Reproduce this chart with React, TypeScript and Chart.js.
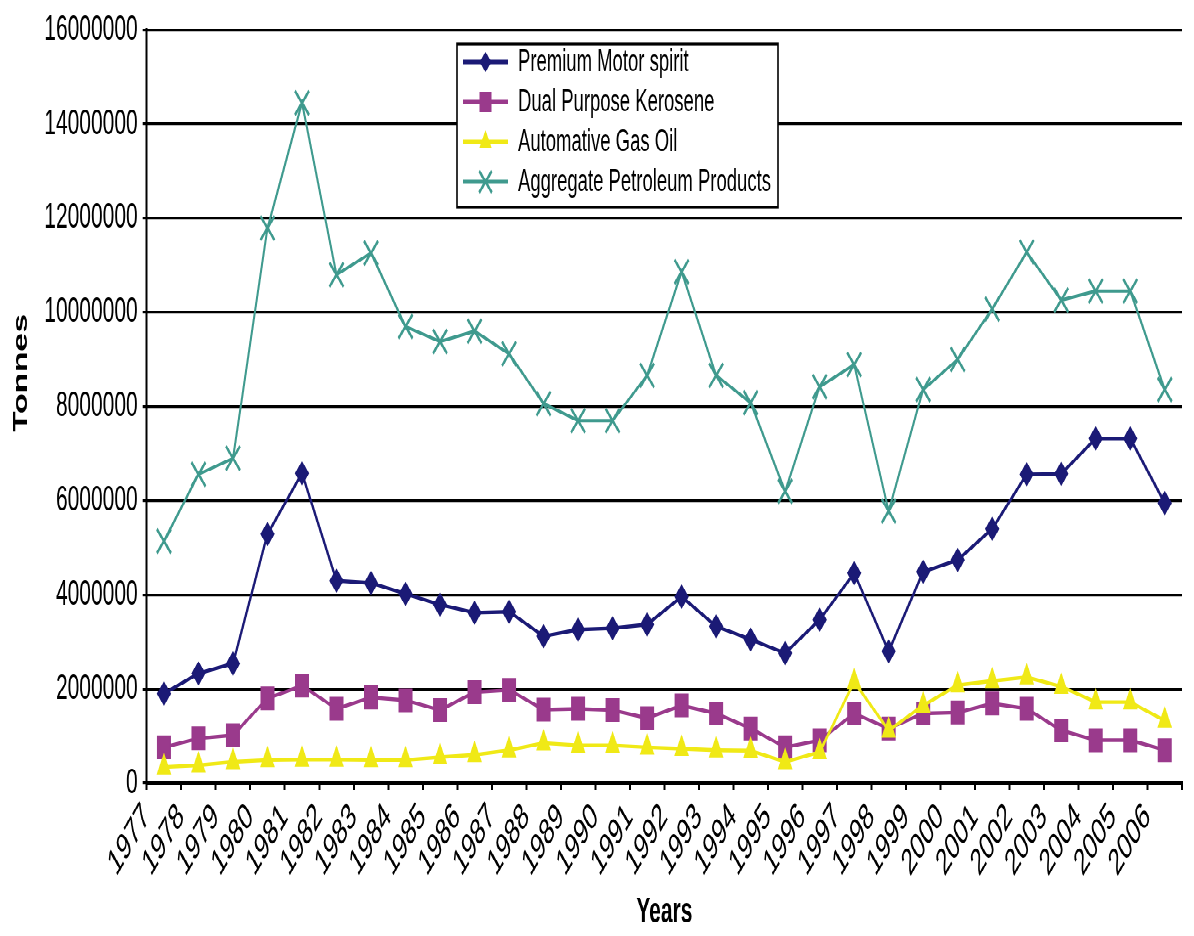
import React, { useEffect, useRef } from 'react';
import { Chart, registerables } from 'chart.js';

Chart.register(...registerables);

const years = [
  '1977', '1978', '1979', '1980', '1981', '1982', '1983', '1984', '1985', '1986',
  '1987', '1988', '1989', '1990', '1991', '1992', '1993', '1994', '1995', '1996',
  '1997', '1998', '1999', '2000', '2001', '2002', '2003', '2004', '2005', '2006',
];

const premiumMotorSpirit = [
  1900000, 2330000, 2540000, 5290000, 6580000, 4300000, 4250000, 4020000, 3790000, 3620000,
  3640000, 3120000, 3260000, 3290000, 3370000, 3960000, 3330000, 3050000, 2760000, 3470000,
  4460000, 2800000, 4490000, 4740000, 5400000, 6560000, 6570000, 7320000, 7320000, 5950000,
];

const dualPurposeKerosene = [
  760000, 950000, 1020000, 1800000, 2070000, 1580000, 1820000, 1760000, 1550000, 1930000,
  1980000, 1560000, 1580000, 1550000, 1380000, 1650000, 1480000, 1160000, 760000, 910000,
  1480000, 1160000, 1480000, 1500000, 1690000, 1580000, 1120000, 910000, 910000, 700000,
];

const automativeGasOil = [
  340000, 380000, 450000, 490000, 500000, 500000, 490000, 490000, 550000, 600000,
  700000, 850000, 800000, 800000, 760000, 730000, 700000, 690000, 450000, 660000,
  2150000, 1120000, 1650000, 2080000, 2170000, 2250000, 2050000, 1720000, 1720000, 1330000,
];

const aggregatePetroleumProducts = [
  5140000, 6560000, 6900000, 11790000, 14450000, 10800000, 11260000, 9700000, 9380000, 9600000,
  9120000, 8060000, 7700000, 7700000, 8660000, 10860000, 8660000, 8080000, 6200000, 8420000,
  8890000, 5780000, 8360000, 9000000, 10070000, 11280000, 10260000, 10450000, 10450000, 8360000,
];

const seriesNames = [
  'Premium Motor spirit',
  'Dual Purpose Kerosene',
  'Automative Gas Oil',
  'Aggregate Petroleum Products',
];

const yMin = 0;
const yMax = 16000000;
const yStep = 2000000;

const FONT = '"Liberation Sans", Arial, Helvetica, sans-serif';
const W = 1194;
const H = 551;
const STRETCH = 936 / H;

function drawMarker(ctx: CanvasRenderingContext2D, style: string, x: number, y: number, r: number, color: string) {
  ctx.save();
  ctx.fillStyle = color;
  ctx.strokeStyle = color;
  ctx.lineWidth = 2;
  ctx.beginPath();
  if (style === 'rectRot') {
    ctx.moveTo(x - r, y);
    ctx.lineTo(x, y - r);
    ctx.lineTo(x + r, y);
    ctx.lineTo(x, y + r);
    ctx.closePath();
    ctx.fill();
  } else if (style === 'rect') {
    const s = Math.SQRT1_2 * r;
    ctx.rect(x - s, y - s, 2 * s, 2 * s);
    ctx.fill();
  } else if (style === 'triangle') {
    const a = Math.PI / 3;
    ctx.moveTo(x, y - r);
    ctx.lineTo(x + Math.sin(a) * r, y + Math.cos(a) * r);
    ctx.lineTo(x - Math.sin(a) * r, y + Math.cos(a) * r);
    ctx.closePath();
    ctx.fill();
  } else if (style === 'crossRot') {
    const d = Math.SQRT1_2 * r;
    ctx.moveTo(x - d, y - d);
    ctx.lineTo(x + d, y + d);
    ctx.moveTo(x - d, y + d);
    ctx.lineTo(x + d, y - d);
    ctx.stroke();
  }
  ctx.restore();
}

const boxLegendPlugin = {
  id: 'boxLegend',
  afterDraw(chart: any) {
    const ctx: CanvasRenderingContext2D = chart.ctx;
    ctx.save();
    const x0 = 457, y0 = 26, x1 = 778, y1 = 122;
    ctx.fillStyle = '#ffffff';
    ctx.fillRect(x0, y0, x1 - x0, y1 - y0);
    ctx.strokeStyle = '#000000';
    ctx.lineWidth = 1.6;
    ctx.strokeRect(x0, y0, x1 - x0, y1 - y0);
    chart.data.datasets.forEach((ds: any, i: number) => {
      const cy = 36.5 + i * 23.5;
      ctx.strokeStyle = ds.borderColor;
      ctx.lineWidth = 2.4;
      ctx.beginPath();
      ctx.moveTo(463, cy);
      ctx.lineTo(508, cy);
      ctx.stroke();
      drawMarker(ctx, ds.pointStyle, 485.5, cy, ds.legendRadius, ds.borderColor);
      ctx.fillStyle = '#000000';
      ctx.font = `18.5px ${FONT}`;
      ctx.textAlign = 'left';
      ctx.textBaseline = 'middle';
      ctx.fillText(ds.label, 518, cy + 0.5);
    });
    // Y axis title
    ctx.translate(21.5, 219.6);
    ctx.rotate(-Math.PI / 2);
    ctx.fillStyle = '#000000';
    ctx.font = `bold 20px ${FONT}`;
    ctx.textAlign = 'center';
    ctx.textBaseline = 'middle';
    ctx.fillText('Tonnes', 0, 0);
    ctx.restore();
  },
};

export default function App() {
  const canvasRef = useRef<HTMLCanvasElement | null>(null);

  useEffect(() => {
    const canvas = canvasRef.current;
    if (!canvas) return;
    const chart = new Chart(canvas, {
      type: 'line',
      data: {
        labels: years,
        datasets: [
          {
            label: seriesNames[0],
            data: premiumMotorSpirit,
            borderColor: '#1b1a76',
            backgroundColor: '#1b1a76',
            pointStyle: 'rectRot',
            pointRadius: 6.5,
            pointBorderWidth: 1,
            borderWidth: 2.2,
            order: 4,
            legendRadius: 6,
          } as any,
          {
            label: seriesNames[1],
            data: dualPurposeKerosene,
            borderColor: '#9a3a8c',
            backgroundColor: '#9a3a8c',
            pointStyle: 'rect',
            pointRadius: 9.2,
            pointBorderWidth: 1,
            borderWidth: 2.2,
            order: 3,
            legendRadius: 8.5,
          } as any,
          {
            label: seriesNames[2],
            data: automativeGasOil,
            borderColor: '#f0e916',
            backgroundColor: '#f0e916',
            pointStyle: 'triangle',
            pointRadius: 7.5,
            pointBorderWidth: 1,
            borderWidth: 2.2,
            order: 2,
            legendRadius: 7,
          } as any,
          {
            label: seriesNames[3],
            data: aggregatePetroleumProducts,
            borderColor: '#3f9a8e',
            backgroundColor: '#3f9a8e',
            pointStyle: 'crossRot',
            pointRadius: 10,
            pointBorderWidth: 2,
            borderWidth: 2,
            order: 1,
            legendRadius: 9,
          } as any,
        ],
      },
      options: {
        responsive: false,
        animation: false,
        devicePixelRatio: 2,
        layout: { padding: { top: 16, right: 2, bottom: 0, left: 0 } },
        plugins: {
          legend: { display: false },
          tooltip: { enabled: false },
        },
        elements: { line: { tension: 0 } },
        scales: {
          x: {
            type: 'category',
            offset: true,
            grid: {
              display: true,
              drawOnChartArea: false,
              drawTicks: true,
              tickLength: 4,
              offset: true,
              color: '#000000',
              lineWidth: 2,
            },
            border: { display: true, color: '#000000', width: 2 },
            ticks: {
              autoSkip: false,
              maxRotation: 45,
              minRotation: 45,
              labelOffset: -17.42,
              padding: 3,
              color: '#000000',
              font: { family: FONT, size: 22 },
            },
            title: {
              display: true,
              text: 'Years',
              color: '#000000',
              font: { family: FONT, size: 21, weight: 'bold' },
              padding: { top: 0, bottom: 1 },
            },
            afterFit(scale: any) {
              scale.height = 90;
            },
          },
          y: {
            min: yMin,
            max: yMax,
            grid: {
              color: '#000000',
              lineWidth: 1.6,
              drawTicks: true,
              tickLength: 4,
            },
            border: { display: true, color: '#000000', width: 2 },
            ticks: {
              stepSize: yStep,
              padding: 5,
              color: '#000000',
              font: { family: FONT, size: 21 },
              callback: (v: any) => String(v),
            },
            afterFit(scale: any) {
              scale.width = 146.7;
            },
          },
        },
      },
      plugins: [boxLegendPlugin],
    });
    return () => chart.destroy();
  }, []);

  return (
    <div
      style={{
        position: 'absolute',
        left: 0,
        top: 0,
        width: W,
        height: H,
        transform: `scaleY(${STRETCH})`,
        transformOrigin: '0 0',
        background: '#ffffff',
      }}
    >
      <canvas ref={canvasRef} width={W} height={H} style={{ width: W, height: H, display: 'block' }} />
    </div>
  );
}
